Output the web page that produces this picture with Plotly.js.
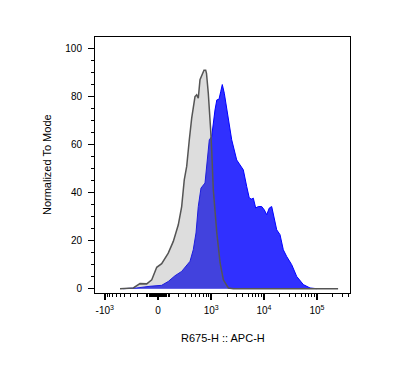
<!DOCTYPE html>
<html>
<head>
<meta charset="utf-8">
<script src="https://cdn.plot.ly/plotly-3.0.1.min.js"></script>
<style>html,body{margin:0;padding:0;background:#fff;}#chart{width:402px;height:370px;}</style>
</head>
<body>
<div id="chart"></div>
<script>
// Control (gray) histogram: fluorescence intensity (APC-H) and % of mode
const controlX = [-502,-258,-173,-102,-55,-11,32,92,143,200,244,281,319,346,364,409,479,518,558,604,670,724,781,810,878,947,976,1020,1096,1280,1478,1705,2118,2636,10000,100000,250000];
const controlY = [0,0.3,2.1,2,3.7,8.9,10.4,14.8,19.7,26.6,34.2,45.3,50.9,58.5,62,71,80,80.7,79.3,87,89,91,91,89.7,81.4,73,66,58,41.2,23.2,10.7,3.7,0.3,0,0,0,0];
// Stained sample (blue) histogram
const sampleX = [-430,-212,-71,32,92,162,244,319,377,441,502,558,632,758,818,918,1020,1096,1181,1280,1409,1517,1627,1776,1973,2209,2454,3052,4065,4720,5280,5860,6280,6970,7800,9050,10140,11250,12590,13970,15450,17380,20040,23130,26800,33300,41400,55200,73800,98600];
const sampleY = [0,0.3,1,1.4,3,5.4,7.2,10,11.4,16.2,23.2,34.2,41.9,44,52.3,62,63.3,69.6,74.4,78.6,78.9,82,85,81.4,74.4,67.5,62,53.6,49.5,42.5,37.7,37.3,37.7,33.6,34.2,34.2,32.8,30.8,33.6,34.2,30.1,24.5,22.5,16.2,13.4,10,5.1,1.7,0.3,0];
// Axis ticks
const majorTickValues = [-1000,0,1000,10000,100000];
const majorTickLabels = ['-10<sup>3</sup>','0','10<sup>3</sup>','10<sup>4</sup>','10<sup>5</sup>'];
const yTickValues = [0,20,40,60,80,100];

const LN10 = Math.log(10);
function biex(v){ return Math.asinh(v/200)/LN10; }

// minor ticks
const minorVals = [];
for (let k=1;k<=9;k++){ minorVals.push(-100*k); minorVals.push(100*k); }
for (let k=1;k<=9;k++){ minorVals.push(-10*k); minorVals.push(10*k); }
for (let d of [1000,10000,100000]) for (let k=2;k<=9;k++) minorVals.push(k*d);

const font = 'Liberation Sans, Arial, sans-serif';

const traces = [
  {x: sampleX.map(biex), y: sampleY, type:'scatter', mode:'lines', fill:'tozeroy',
   fillcolor:'rgb(48,48,255)', line:{color:'rgb(0,0,255)', width:1}, hoverinfo:'skip'},
  {x: controlX.map(biex), y: controlY, type:'scatter', mode:'lines', fill:'tozeroy',
   fillcolor:'rgba(120,120,120,0.25)', line:{color:'rgb(85,85,85)', width:1.5}, hoverinfo:'skip'}
];

const layout = {
  width:402, height:370,
  margin:{l:95, r:52, t:37, b:77},
  paper_bgcolor:'#fff', plot_bgcolor:'#fff',
  showlegend:false,
  font:{family:font, size:10, color:'#000'},
  xaxis:{
    range:[(95-158)/53, (350-158)/53],
    tickmode:'array', tickvals: majorTickValues.map(biex), ticktext: majorTickLabels,
    ticks:'outside', ticklen:6, tickwidth:1.5, tickcolor:'#000',
    minor:{tickmode:'array', tickvals: minorVals.map(biex), ticks:'outside', ticklen:3, tickwidth:1, tickcolor:'#000', showgrid:false},
    showline:true, linecolor:'#000', linewidth:1, mirror:true,
    showgrid:false, zeroline:false, tickfont:{family:font, size:10, color:'#000'},
    ticklabelstandoff:2
  },
  yaxis:{
    range:[-1.8, 104.8],
    tickmode:'array', tickvals: yTickValues,
    ticks:'outside', ticklen:6, tickwidth:1.5, tickcolor:'#000',
    minor:{dtick:5, tick0:0, ticks:'outside', ticklen:3, tickwidth:1, tickcolor:'#000', showgrid:false},
    showline:true, linecolor:'#000', linewidth:1, mirror:true,
    showgrid:false, zeroline:false, tickfont:{family:font, size:10, color:'#000'},
    ticklabelstandoff:4
  },
  annotations:[
    {text:'R675-H :: APC-H', xref:'paper', yref:'paper', x:0.5, y:-0.175, xanchor:'center', yanchor:'middle', showarrow:false, font:{family:font, size:11, color:'#000'}},
    {text:'Normalized To Mode', xref:'paper', yref:'paper', x:-0.188, y:0.5, xanchor:'center', yanchor:'middle', textangle:-90, showarrow:false, font:{family:font, size:11, color:'#000'}}
  ]
};

Plotly.newPlot('chart', traces, layout, {staticPlot:true, displayModeBar:false});
</script>
</body>
</html>
